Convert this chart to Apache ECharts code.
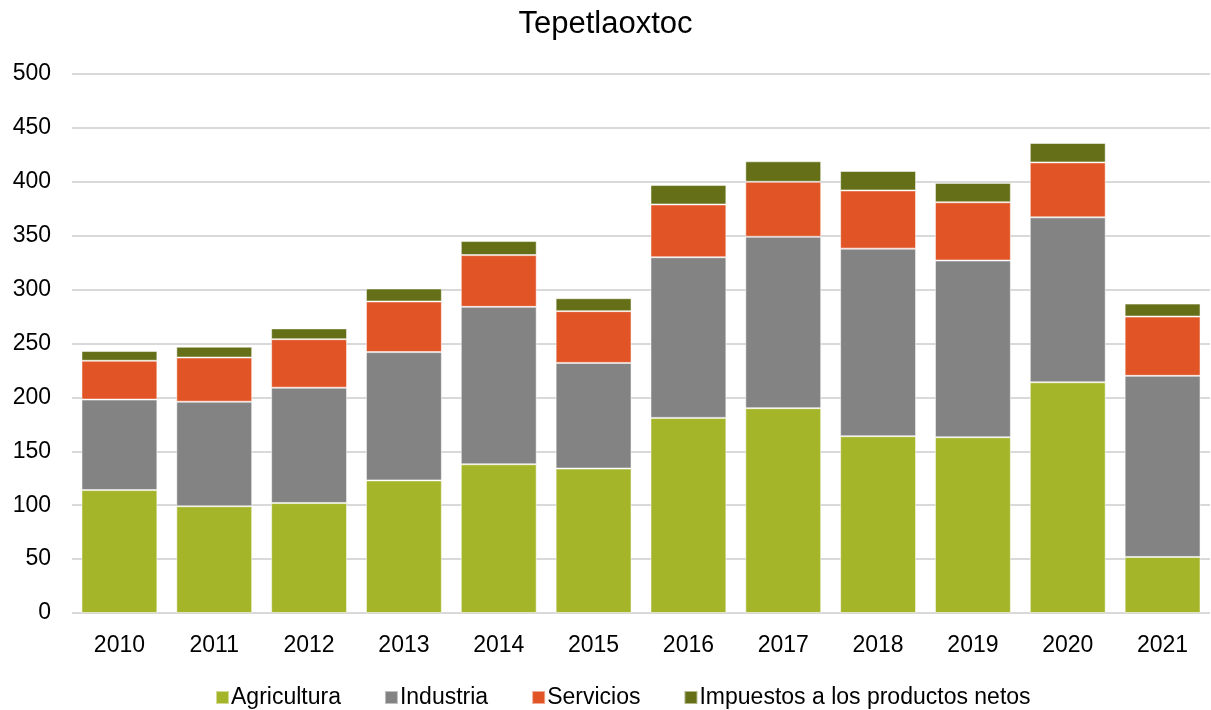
<!DOCTYPE html>
<html>
<head>
<meta charset="utf-8">
<script src="https://cdn.jsdelivr.net/npm/echarts@6/dist/echarts.min.js"></script>
<style>
  html, body { margin: 0; padding: 0; background: #fff; }
  #chart { width: 1211px; height: 710px; }
</style>
</head>
<body>
<div id="chart"></div>
<script>
// años
const years = ['2010', '2011', '2012', '2013', '2014', '2015', '2016', '2017', '2018', '2019', '2020', '2021'];

// valores por sector
const agricultura = [114, 99, 102, 123, 138, 134, 181, 190, 164, 163, 214, 52];
const industria = [84, 97, 107, 119, 146, 98, 149, 159, 174, 164, 153, 168];
const servicios = [36, 41, 45, 47, 48, 48, 49, 51, 54, 54, 51, 55];
const impuestos = [9, 10, 10, 12, 13, 12, 18, 19, 18, 18, 18, 12];

const font = 'Liberation Sans, Arial, sans-serif';

const chart = echarts.init(document.getElementById('chart'));

function serie(name, data, color) {
  return {
    name: name,
    type: 'bar',
    stack: 'total',
    data: data,
    barCategoryGap: '20%',
    itemStyle: {
      color: color,
      borderColor: 'rgba(255,255,255,0.5)',
      borderWidth: 1
    }
  };
}

const option = {
  backgroundColor: '#fff',
  animation: false,
  title: {
    text: 'Tepetlaoxtoc',
    left: 'center',
    top: 4,
    textStyle: {
      fontFamily: font,
      fontSize: 31,
      fontWeight: 'normal',
      color: '#000'
    }
  },
  grid: {
    left: 72,
    right: 1,
    top: 74,
    bottom: 97
  },
  legend: {
    top: 681,
    left: 210,
    itemWidth: 13,
    itemHeight: 13,
    itemGap: 43,
    icon: 'rect',
    textStyle: {
      fontFamily: font,
      fontSize: 23,
      color: '#000',
      padding: [0, 0, 0, -3]
    },
    data: ['Agricultura', 'Industria', 'Servicios', 'Impuestos a los productos netos']
  },
  xAxis: {
    type: 'category',
    data: years,
    axisLine: { show: false },
    axisTick: { show: false },
    axisLabel: {
      fontFamily: font,
      fontSize: 23,
      color: '#000',
      margin: 21
    }
  },
  yAxis: {
    type: 'value',
    min: 0,
    max: 500,
    interval: 50,
    axisLine: { show: false },
    axisTick: { show: false },
    axisLabel: {
      fontFamily: font,
      fontSize: 23,
      color: '#000',
      margin: 21
    },
    splitLine: {
      lineStyle: { color: '#d9d9d9', width: 2 }
    }
  },
  series: [
    serie('Agricultura', agricultura, '#A5B52A'),
    serie('Industria', industria, '#838383'),
    serie('Servicios', servicios, '#E05426'),
    serie('Impuestos a los productos netos', impuestos, '#646F17')
  ]
};

chart.setOption(option);
</script>
</body>
</html>
